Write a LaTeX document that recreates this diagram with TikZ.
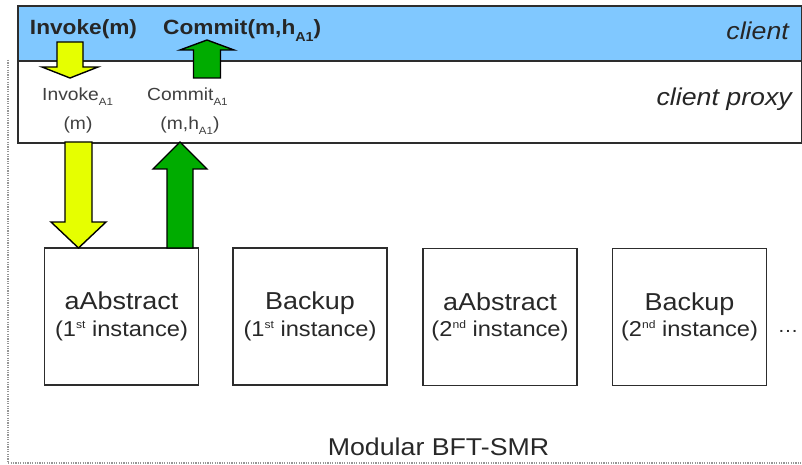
\documentclass[tikz,border=0pt]{standalone}
\usepackage{fontspec}
\setmainfont{Liberation Sans}[FakeStretch=1.1]
\usetikzlibrary{calc}
\definecolor{clientblue}{RGB}{128,200,255}
\definecolor{arrowyellow}{RGB}{230,255,0}
\definecolor{arrowgreen}{RGB}{0,172,0}
\definecolor{boxline}{RGB}{45,45,45}
\definecolor{txt}{RGB}{40,40,40}
\definecolor{dotline}{RGB}{150,150,150}
\newcommand\ssub[1]{\raisebox{-5pt}{\fontsize{10.5}{11}\selectfont #1}}
\newcommand\bsub[1]{\raisebox{-7pt}{\fontsize{13}{13}\selectfont #1}}
\newcommand\ssup[1]{\raisebox{8pt}{\fontsize{11}{11}\selectfont #1}}
\newcommand\insttitle[1]{{\fontsize{24.5}{26}\selectfont #1}}
\newcommand\blockarrow[6]{%
  \draw[arrowbody, fill=#6] let \p1=(#1), \p2=(#2),
    \n1={ifthenelse(\y2>\y1, \y2-#5, \y2+#5)} in
    (\x1-#3,\y1) -- (\x1-#3,\n1) -- (\x1-#4,\n1) -- (\x2,\y2)
    -- (\x1+#4,\n1) -- (\x1+#3,\n1) -- (\x1+#3,\y1) -- cycle;}
\tikzset{
  layer/.style={draw=boxline, line width=1.8pt, inner sep=0pt, anchor=north west},
  inst/.style={draw=boxline, line width=1.8pt, inner sep=0pt, minimum width=154pt,
    minimum height=137pt, align=center, text=txt,
    font=\fontsize{21.5}{26.5}\selectfont},
  arrowbody/.style={draw=black, line width=1.4pt, line join=miter},
  lbl/.style={inner sep=0pt, text=txt},
  toplbl/.style={lbl, text=black!85, font=\bfseries\fontsize{20.6}{22}\selectfont},
  ital/.style={lbl, text=black!85, font=\itshape\fontsize{24.3}{26}\selectfont},
  small/.style={lbl, text=black!75, font=\fontsize{17.5}{19}\selectfont},
}
\begin{document}
\begin{tikzpicture}[x=1pt,y=-1pt]
\useasboundingbox (0,0) rectangle (802,465);
% outer dotted frame (left and bottom)
\draw[dotline, line width=1.2pt, dash pattern=on 1.2pt off 1.2pt] (8,60) -- (8,463) -- (801,463);
% layers
\node[layer, fill=clientblue, minimum width=784pt, minimum height=55pt] (client) at (17,5) {};
\node[layer, fill=white, minimum width=784pt, minimum height=82pt] (proxy) at (17,60) {};
% instance boxes
\node[inst] (a1) at (121.5,316.5) {\insttitle{aAbstract}\\(1\ssup{st} instance)};
\node[inst] (b1) at (310,316.5) {\insttitle{Backup}\\(1\ssup{st} instance)};
\node[inst] (a2) at (500,317) {\insttitle{aAbstract}\\(2\ssup{nd} instance)};
\node[inst] (b2) at (689.5,317) {\insttitle{Backup}\\(2\ssup{nd} instance)};
\node[lbl, anchor=base, font=\fontsize{19}{20}\selectfont] (dots) at (788,332) {…};
% arrow end points
\coordinate (sy1) at (70,42);   \coordinate (sy2) at (70,78);
\coordinate (sg1) at (207,78);  \coordinate (sg2) at (207,40);
\coordinate (by1) at (78.5,142); \coordinate (by2) at (78.5,248);
\coordinate (bg1) at (180,248);  \coordinate (bg2) at (180,142);
% block arrows
\blockarrow{sy1}{sy2}{13pt}{28pt}{11pt}{arrowyellow}
\blockarrow{sg1}{sg2}{13.5pt}{27pt}{10pt}{arrowgreen}
\blockarrow{by1}{by2}{13.5pt}{27.5pt}{26pt}{arrowyellow}
\blockarrow{bg1}{bg2}{13pt}{27pt}{27pt}{arrowgreen}
% labels
\node[toplbl, anchor=base] (inv) at (83.5,35) {Invoke(m)};
\node[toplbl, anchor=base west] (com) at (163,35) {Commit(m,h\bsub{A1})};
\node[ital, anchor=base east] (cl) at (789,40) {client};
\node[ital, anchor=base east] (cp) at (792,106) {client proxy};
\node[small, anchor=base west] (ia1) at (42,101) {Invoke\ssub{A1}};
\node[small, anchor=base] (im) at (78,130) {(m)};
\node[small, anchor=base west] (ca1) at (147,101) {Commit\ssub{A1}};
\node[small, anchor=base] (cm) at (190,130) {(m,h\ssub{A1})};
\node[lbl, anchor=base, font=\fontsize{24.3}{26}\selectfont] (mod) at (438.5,455) {Modular BFT-SMR};
\end{tikzpicture}
\end{document}
